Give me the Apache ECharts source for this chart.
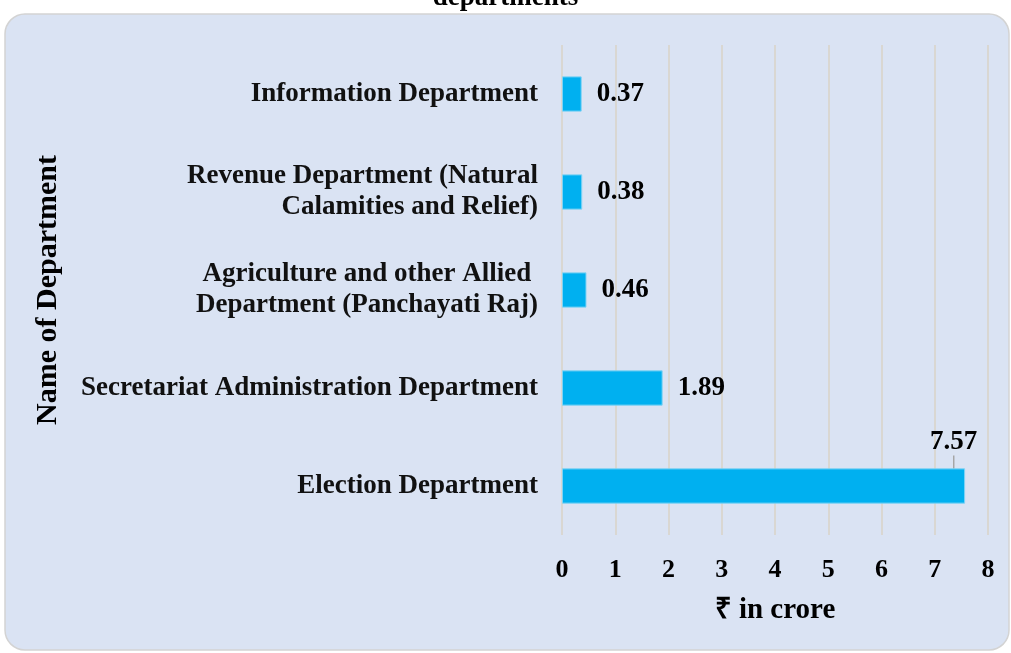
<!DOCTYPE html>
<html>
<head>
<meta charset="utf-8">
<script src="https://cdn.jsdelivr.net/npm/echarts@6/dist/echarts.min.js"></script>
<style>
html,body{margin:0;padding:0;background:#fff;}
#chart{width:1011px;height:653px;}
</style>
</head>
<body>
<div id="chart"></div>
<script>
var categories = [
  'Election Department',
  'Secretariat Administration Department',
  'Agriculture and other Allied \nDepartment (Panchayati Raj)',
  'Revenue Department (Natural\nCalamities and Relief)',
  'Information Department'
];
var values = [7.57, 1.89, 0.46, 0.38, 0.37];
var xTicks = [0, 1, 2, 3, 4, 5, 6, 7, 8];
var titleText = 'departments';
var xAxisName = '\u20B9 in crore';
var yAxisName = 'Name of Department';

var FONT = '"Liberation Serif", "Times New Roman", serif';
var seriesData = values.map(function (v, i) {
  return {value: v, labelLine: {show: i === 0}};
});
var chart = echarts.init(document.getElementById('chart'));
chart.setOption({
  backgroundColor: '#ffffff',
  animation: false,
  graphic: [
    {
      type: 'rect', z: -10,
      shape: {x: 5, y: 14, width: 1004, height: 636, r: 20},
      style: {fill: '#DAE3F3', stroke: '#D3D3D3', lineWidth: 1.5}
    },
    {
      type: 'text', left: 'center', top: -15,
      style: {text: titleText, font: 'bold 27px ' + FONT, fill: '#000'}
    }
  ],
  grid: {left: 562, right: 23, top: 45, bottom: 118, containLabel: false},
  xAxis: {
    type: 'value', min: xTicks[0], max: xTicks[xTicks.length - 1], interval: 1,
    name: xAxisName, nameLocation: 'middle', nameGap: 61,
    nameTextStyle: {fontFamily: FONT, fontWeight: 'bold', fontSize: 29, color: '#000'},
    axisLine: {show: false}, axisTick: {show: false},
    axisLabel: {margin: 22, fontFamily: FONT, fontWeight: 'bold', fontSize: 26, color: '#000'},
    splitLine: {show: true, lineStyle: {color: '#D9D3C7', width: 1.5}}
  },
  yAxis: {
    type: 'category', data: categories,
    name: yAxisName, nameLocation: 'middle', nameGap: 499, nameRotate: 90,
    nameTextStyle: {fontFamily: FONT, fontWeight: 'bold', fontSize: 30, color: '#000'},
    axisLine: {show: false}, axisTick: {show: false},
    axisLabel: {margin: 24, fontFamily: FONT, fontWeight: 'bold', fontSize: 27, color: '#111', lineHeight: 31, align: 'right'},
    splitLine: {show: false}
  },
  series: [{
    type: 'bar', data: seriesData, barWidth: '36%',
    itemStyle: {color: '#00B0F0', borderColor: '#7FD3F5', borderWidth: 1},
    label: {
      show: true, position: 'right', distance: 15,
      fontFamily: FONT, fontWeight: 'bold', fontSize: 27, color: '#000'
    },
    labelLine: {show: false, lineStyle: {color: '#A6A6A6', width: 1.5}},
    labelLayout: function (params) {
      if (params.dataIndex === 0) {
        return {dx: -50, dy: -44};
      }
      return {};
    }
  }]
});
</script>
</body>
</html>
